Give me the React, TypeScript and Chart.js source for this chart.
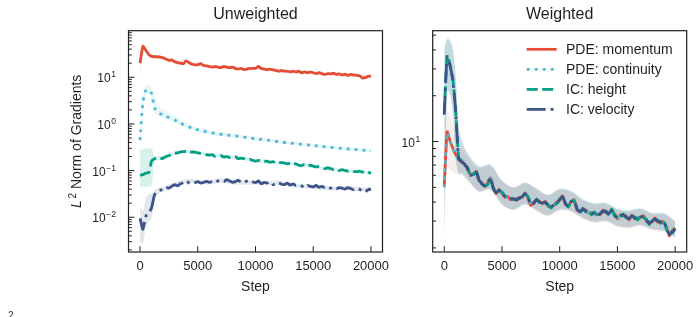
import React, { useEffect, useRef } from "react";
import { Chart, registerables } from "chart.js";

Chart.register(...registerables);

const FONT = '"Liberation Sans", Arial, Helvetica, sans-serif';
const INK = "#1f1f1f";

const SERIES_LABELS = ["PDE: momentum", "PDE: continuity", "IC: height", "IC: velocity"];
const SERIES_COLORS = ["#E64B35", "#4DBBD5", "#00A087", "#3C5488"];
const SERIES_DASH: number[][] = [[], [3, 5], [11, 4.5], [19, 4.8, 3, 4.8]];

const X_TICKS = [0, 5000, 10000, 15000, 20000];
const LEFT_Y_TICKS = [0.01, 0.1, 1, 10];
const RIGHT_Y_TICKS = [10];

// training steps at which the gradient norms were logged
const STEPS = [
  0, 250, 500, 750, 1000, 1250, 1500, 1750, 2000, 2250,
  2500, 2750, 3000, 3250, 3500, 3750, 4000, 4250, 4500, 4750,
  5000, 5250, 5500, 5750, 6000, 6250, 6500, 6750, 7000, 7250,
  7500, 7750, 8000, 8250, 8500, 8750, 9000, 9250, 9500, 9750,
  10000, 10250, 10500, 10750, 11000, 11250, 11500, 11750, 12000, 12250,
  12500, 12750, 13000, 13250, 13500, 13750, 14000, 14250, 14500, 14750,
  15000, 15250, 15500, 15750, 16000, 16250, 16500, 16750, 17000, 17250,
  17500, 17750, 18000, 18250, 18500, 18750, 19000, 19250, 19500, 19750,
  20000,
];

// ---- Unweighted: mean L2 norm of gradients per loss term ----
const UNW_MOMENTUM = [
  20, 46, 38, 31, 28, 27.5, 27.5, 27, 26, 24.5,
  23, 23.5, 21.5, 20.5, 20, 19.5, 22.5, 20.5, 19, 18.5,
  18.5, 19.5, 18, 17.5, 17, 16.5, 17, 16.5, 16, 17,
  16.5, 16, 16.5, 15.5, 15, 15.5, 14.5, 15, 15.5, 15.5,
  15.5, 17, 15.5, 15, 14.5, 15, 14.5, 14, 13.5, 14,
  13.5, 13.5, 13, 13.5, 13, 13.5, 12.5, 13, 12.5, 13,
  12.5, 12, 12.5, 12, 11.5, 12, 11.8, 12.2, 11.5, 11.8,
  11.2, 11.6, 11, 11.5, 11.2, 11, 10.8, 9.7, 9.8, 10.4,
  10.6,
];
const UNW_CONTINUITY = [
  0.45, 3.0, 5.2, 5.4, 4.4, 2.2, 1.8, 1.65, 1.55, 1.45,
  1.38, 1.3, 1.22, 1.12, 1.04, 0.97, 0.91, 0.86, 0.82, 0.78,
  0.75, 0.72, 0.7, 0.68, 0.66, 0.64, 0.63, 0.61, 0.6, 0.59,
  0.58, 0.57, 0.56, 0.55, 0.54, 0.53, 0.52, 0.51, 0.5, 0.49,
  0.48, 0.47, 0.465, 0.455, 0.45, 0.44, 0.43, 0.425, 0.415, 0.41,
  0.4, 0.395, 0.39, 0.385, 0.375, 0.37, 0.365, 0.36, 0.355, 0.35,
  0.345, 0.34, 0.335, 0.33, 0.325, 0.32, 0.318, 0.312, 0.308, 0.303,
  0.3, 0.296, 0.292, 0.288, 0.285, 0.281, 0.278, 0.275, 0.272, 0.27,
  0.268,
];
const UNW_HEIGHT = [
  0.08, 0.082, 0.088, 0.09, 0.16, 0.18, 0.185, 0.18, 0.185, 0.2,
  0.21, 0.225, 0.235, 0.24, 0.25, 0.255, 0.26, 0.255, 0.25, 0.25,
  0.24, 0.235, 0.23, 0.22, 0.215, 0.22, 0.2, 0.205, 0.21, 0.195,
  0.2, 0.19, 0.195, 0.2, 0.18, 0.185, 0.18, 0.17, 0.175, 0.165,
  0.16, 0.165, 0.16, 0.155, 0.16, 0.15, 0.155, 0.148, 0.145, 0.15,
  0.145, 0.14, 0.143, 0.135, 0.14, 0.13, 0.128, 0.135, 0.125, 0.13,
  0.125, 0.12, 0.122, 0.118, 0.11, 0.115, 0.11, 0.105, 0.108, 0.1,
  0.105, 0.1, 0.098, 0.1, 0.096, 0.094, 0.097, 0.093, 0.09, 0.092,
  0.088,
];
const UNW_VELOCITY = [
  0.0095, 0.0055, 0.0105, 0.012, 0.016, 0.03, 0.036, 0.038, 0.04, 0.044,
  0.042, 0.046, 0.05, 0.047, 0.052, 0.055, 0.06, 0.054, 0.052, 0.055,
  0.058, 0.054, 0.056, 0.059, 0.056, 0.058, 0.055, 0.06, 0.062, 0.058,
  0.064, 0.06, 0.056, 0.058, 0.062, 0.057, 0.055, 0.06, 0.063, 0.058,
  0.055, 0.06, 0.052, 0.056, 0.054, 0.058, 0.05, 0.052, 0.055, 0.051,
  0.05, 0.054, 0.049, 0.052, 0.048, 0.05, 0.047, 0.043, 0.048, 0.046,
  0.045, 0.048, 0.044, 0.046, 0.043, 0.045, 0.042, 0.044, 0.041, 0.043,
  0.042, 0.04, 0.043, 0.041, 0.039, 0.042, 0.04, 0.037, 0.035, 0.039,
  0.04,
];

// ---- Weighted: mean L2 norm of gradients per loss term ----
const W_MOMENTUM = [
  5.1, 11.6, 10.1, 9.0, 8.2, 7.7, 7.3, 7.15, 6.6, 6.1,
  6.15, 6.35, 5.55, 5.35, 5.05, 5.35, 5.75, 4.95, 4.55, 4.85,
  4.55, 4.3, 4.35, 4.15, 4.25, 4.1, 4.3, 4.3, 4.6, 4.25,
  3.8, 4.0, 4.1, 4.05, 3.9, 4.05, 3.75, 3.75, 3.8, 4.0,
  4.1, 4.4, 3.85, 3.8, 4.0, 4.15, 3.55, 3.5, 3.55, 3.55,
  3.4, 3.4, 3.35, 3.35, 3.3, 3.55, 3.4, 3.4, 3.5, 3.35,
  3.1, 3.3, 3.25, 3.25, 3.05, 3.3, 3.1, 3.15, 3.15, 3.25,
  3.0, 2.95, 2.95, 3.15, 2.95, 3.0, 2.95, 2.75, 2.4, 2.6,
  2.7,
];
const W_CONTINUITY = [
  5.0, 11.4, 10.0, 9.1, 8.1, 7.65, 7.35, 7.1, 6.65, 6.05,
  6.1, 6.4, 5.6, 5.3, 5.1, 5.3, 5.8, 4.9, 4.6, 4.8,
  4.6, 4.35, 4.3, 4.2, 4.2, 4.15, 4.25, 4.35, 4.55, 4.3,
  3.85, 3.95, 4.15, 4.0, 3.95, 4.0, 3.8, 3.7, 3.85, 3.95,
  4.15, 4.35, 3.9, 3.75, 4.05, 4.1, 3.6, 3.45, 3.6, 3.5,
  3.45, 3.35, 3.4, 3.3, 3.35, 3.5, 3.45, 3.35, 3.55, 3.3,
  3.15, 3.25, 3.3, 3.2, 3.1, 3.25, 3.15, 3.1, 3.2, 3.2,
  3.05, 2.9, 3.0, 3.1, 3.0, 2.95, 3.0, 2.7, 2.45, 2.55,
  2.65,
];
const W_HEIGHT = [
  15.5, 37, 32, 25.5, 15.5, 7.8, 7.5, 7.0, 6.8, 6.1,
  6.0, 6.3, 5.7, 5.25, 5.15, 5.2, 5.7, 5.0, 4.65, 4.75,
  4.65, 4.4, 4.25, 4.25, 4.15, 4.2, 4.2, 4.4, 4.5, 4.35,
  3.9, 3.9, 4.2, 3.95, 4.0, 3.95, 3.85, 3.65, 3.9, 3.9,
  4.2, 4.3, 3.95, 3.7, 4.1, 4.05, 3.65, 3.4, 3.65, 3.45,
  3.5, 3.3, 3.45, 3.25, 3.4, 3.45, 3.5, 3.3, 3.6, 3.25,
  3.2, 3.2, 3.35, 3.15, 3.15, 3.2, 3.2, 3.05, 3.25, 3.15,
  3.1, 2.85, 3.05, 3.05, 3.05, 2.9, 3.05, 2.65, 2.5, 2.5,
  2.7,
];
const W_VELOCITY = [
  15, 36, 31.5, 25, 15.5, 7.6, 7.4, 7.1, 6.7, 6.0,
  6.1, 6.4, 5.6, 5.3, 5.1, 5.3, 5.8, 4.9, 4.6, 4.8,
  4.6, 4.35, 4.3, 4.2, 4.2, 4.15, 4.25, 4.35, 4.55, 4.3,
  3.85, 3.95, 4.15, 4.0, 3.95, 4.0, 3.8, 3.7, 3.85, 3.95,
  4.15, 4.35, 3.9, 3.75, 4.05, 4.1, 3.6, 3.45, 3.6, 3.5,
  3.45, 3.35, 3.4, 3.3, 3.35, 3.5, 3.45, 3.35, 3.55, 3.3,
  3.15, 3.25, 3.3, 3.2, 3.1, 3.25, 3.15, 3.1, 3.2, 3.2,
  3.05, 2.9, 3.0, 3.1, 3.0, 2.95, 3.0, 2.7, 2.45, 2.55,
  2.65,
];

// spread across runs: upper / lower bound as a multiple of the mean
const BAND_STEPS = [
  0, 250, 500, 750, 1000, 1250, 1500, 2000, 3000, 4000,
  5000, 6000, 7000, 8000, 9000, 10000, 11000, 12000, 13000, 14000,
  15000, 16000, 17000, 18000, 19000, 20000,
];
const UNW_MOMENTUM_HI = [1.6, 1.12, 1.12, 1.1, 1.1, 1.08, 1.07, 1.06, 1.06, 1.06, 1.06, 1.06, 1.06, 1.06, 1.06, 1.06, 1.06, 1.06, 1.06, 1.06, 1.06, 1.06, 1.06, 1.06, 1.06, 1.06];
const UNW_MOMENTUM_LO = [0.45, 0.85, 0.88, 0.9, 0.9, 0.92, 0.93, 0.94, 0.94, 0.94, 0.94, 0.94, 0.94, 0.94, 0.94, 0.94, 0.94, 0.94, 0.94, 0.94, 0.94, 0.94, 0.94, 0.94, 0.94, 0.94];
const UNW_CONTINUITY_HI = [1.4, 1.35, 1.25, 1.25, 1.35, 1.8, 1.5, 1.3, 1.2, 1.15, 1.12, 1.1, 1.1, 1.1, 1.1, 1.1, 1.09, 1.09, 1.09, 1.09, 1.08, 1.08, 1.08, 1.08, 1.08, 1.08];
const UNW_CONTINUITY_LO = [0.7, 0.7, 0.8, 0.85, 0.8, 0.85, 0.85, 0.88, 0.88, 0.9, 0.9, 0.9, 0.9, 0.92, 0.92, 0.92, 0.92, 0.92, 0.92, 0.92, 0.92, 0.92, 0.92, 0.92, 0.92, 0.92];
const UNW_HEIGHT_HI = [3.6, 3.6, 3.4, 3.3, 1.9, 1.15, 1.1, 1.08, 1.08, 1.08, 1.08, 1.08, 1.08, 1.08, 1.08, 1.08, 1.08, 1.08, 1.08, 1.08, 1.08, 1.08, 1.08, 1.08, 1.08, 1.08];
const UNW_HEIGHT_LO = [0.55, 0.55, 0.5, 0.5, 0.3, 0.88, 0.9, 0.92, 0.92, 0.92, 0.92, 0.92, 0.92, 0.92, 0.92, 0.92, 0.92, 0.92, 0.92, 0.92, 0.92, 0.92, 0.92, 0.92, 0.92, 0.92];
const UNW_VELOCITY_HI = [1.8, 2.5, 2.4, 2.6, 2.0, 1.3, 1.15, 1.12, 1.12, 1.1, 1.1, 1.1, 1.1, 1.1, 1.1, 1.1, 1.1, 1.1, 1.1, 1.1, 1.1, 1.1, 1.1, 1.1, 1.1, 1.1];
const UNW_VELOCITY_LO = [0.3, 0.5, 0.6, 0.65, 0.6, 0.8, 0.85, 0.88, 0.88, 0.9, 0.9, 0.9, 0.9, 0.9, 0.9, 0.9, 0.9, 0.9, 0.9, 0.9, 0.9, 0.9, 0.9, 0.9, 0.9, 0.9];

const W_MOMENTUM_HI = [2.2, 1.35, 1.45, 1.45, 1.35, 1.25, 1.22, 1.2, 1.2, 1.2, 1.2, 1.19, 1.18, 1.18, 1.17, 1.17, 1.16, 1.15, 1.15, 1.14, 1.14, 1.13, 1.13, 1.12, 1.12, 1.12];
const W_MOMENTUM_LO = [0.4, 0.6, 0.65, 0.7, 0.75, 0.8, 0.83, 0.84, 0.84, 0.84, 0.84, 0.85, 0.85, 0.85, 0.86, 0.86, 0.86, 0.87, 0.87, 0.87, 0.88, 0.88, 0.88, 0.88, 0.86, 0.88];
const W_CONTINUITY_HI = [2.1, 1.35, 1.4, 1.45, 1.35, 1.25, 1.22, 1.2, 1.2, 1.2, 1.19, 1.19, 1.18, 1.18, 1.17, 1.17, 1.16, 1.15, 1.15, 1.14, 1.14, 1.13, 1.13, 1.12, 1.12, 1.12];
const W_CONTINUITY_LO = [0.4, 0.62, 0.66, 0.7, 0.75, 0.8, 0.83, 0.84, 0.84, 0.84, 0.85, 0.85, 0.85, 0.85, 0.86, 0.86, 0.86, 0.87, 0.87, 0.87, 0.88, 0.88, 0.88, 0.88, 0.86, 0.88];
const W_HEIGHT_HI = [2.6, 1.3, 1.45, 1.6, 1.7, 1.6, 1.38, 1.25, 1.22, 1.22, 1.2, 1.19, 1.18, 1.18, 1.17, 1.17, 1.16, 1.15, 1.15, 1.14, 1.14, 1.13, 1.13, 1.12, 1.12, 1.12];
const W_HEIGHT_LO = [0.15, 0.6, 0.65, 0.6, 0.5, 0.8, 0.83, 0.84, 0.84, 0.84, 0.84, 0.85, 0.85, 0.85, 0.86, 0.86, 0.86, 0.87, 0.87, 0.87, 0.88, 0.88, 0.88, 0.88, 0.86, 0.88];
const W_VELOCITY_HI = [2.7, 1.3, 1.45, 1.6, 1.7, 1.6, 1.38, 1.25, 1.22, 1.22, 1.2, 1.19, 1.18, 1.18, 1.17, 1.17, 1.16, 1.15, 1.15, 1.14, 1.14, 1.13, 1.13, 1.12, 1.12, 1.12];
const W_VELOCITY_LO = [0.15, 0.6, 0.65, 0.6, 0.5, 0.8, 0.83, 0.84, 0.84, 0.84, 0.84, 0.85, 0.85, 0.85, 0.86, 0.86, 0.86, 0.87, 0.87, 0.87, 0.88, 0.88, 0.88, 0.88, 0.86, 0.88];

type Panel = {
  title: string;
  series: number[][];
  bandHi: number[][];
  bandLo: number[][];
  bandAlpha: number[];
  yMin: number;
  yMax: number;
  yTicks: number[];
  yLabel: boolean;
  legend: boolean;
  padding: { left: number; right: number; top: number; bottom: number };
};

const UNWEIGHTED: Panel = {
  title: "Unweighted",
  series: [UNW_MOMENTUM, UNW_CONTINUITY, UNW_HEIGHT, UNW_VELOCITY],
  bandHi: [UNW_MOMENTUM_HI, UNW_CONTINUITY_HI, UNW_HEIGHT_HI, UNW_VELOCITY_HI],
  bandLo: [UNW_MOMENTUM_LO, UNW_CONTINUITY_LO, UNW_HEIGHT_LO, UNW_VELOCITY_LO],
  bandAlpha: [0.13, 0.13, 0.15, 0.15],
  yMin: 0.0018,
  yMax: 99.5,
  yTicks: LEFT_Y_TICKS,
  yLabel: true,
  legend: false,
  padding: { left: 128.5, right: 37.5, top: 30.7, bottom: 65 },
};

const WEIGHTED: Panel = {
  title: "Weighted",
  series: [W_MOMENTUM, W_CONTINUITY, W_HEIGHT, W_VELOCITY],
  bandHi: [W_MOMENTUM_HI, W_CONTINUITY_HI, W_HEIGHT_HI, W_VELOCITY_HI],
  bandLo: [W_MOMENTUM_LO, W_CONTINUITY_LO, W_HEIGHT_LO, W_VELOCITY_LO],
  bandAlpha: [0.08, 0.06, 0.1, 0.18],
  yMin: 1.88,
  yMax: 53.5,
  yTicks: RIGHT_Y_TICKS,
  yLabel: false,
  legend: true,
  padding: { left: 42.7, right: 13.3, top: 30.7, bottom: 65 },
};

function rgba(hex: string, a: number) {
  const n = parseInt(hex.slice(1), 16);
  return `rgba(${(n >> 16) & 255},${(n >> 8) & 255},${n & 255},${a})`;
}

function linePoints(values: number[]) {
  return STEPS.map((s, i) => ({ x: s, y: values[i] }));
}

function bandPoints(mean: number[], factors: number[]) {
  return BAND_STEPS.map((s, i) => ({ x: s, y: mean[STEPS.indexOf(s)] * factors[i] }));
}

// axes frame, inward ticks, tick labels, titles and legend
function makeDecor(p: Panel) {
  return {
    id: "decor",
    afterDraw(chart: any) {
      const { ctx, chartArea: a } = chart;
      const xs = chart.scales.x;
      const ys = chart.scales.y;
      ctx.save();
      ctx.fillStyle = INK;
      ctx.strokeStyle = INK;

      // tick marks
      ctx.lineWidth = 1;
      ctx.beginPath();
      for (const t of X_TICKS) {
        const px = xs.getPixelForValue(t);
        ctx.moveTo(px, a.bottom);
        ctx.lineTo(px, a.bottom - 5.8);
      }
      const e0 = Math.floor(Math.log10(ys.min));
      const e1 = Math.ceil(Math.log10(ys.max));
      for (let e = e0; e <= e1; e++) {
        for (let k = 1; k <= 9; k++) {
          const v = k * Math.pow(10, e);
          if (v < ys.min || v > ys.max) continue;
          const py = ys.getPixelForValue(v);
          ctx.moveTo(a.left, py);
          ctx.lineTo(a.left + (k === 1 ? 5.8 : 3.3), py);
        }
      }
      ctx.stroke();

      // frame
      ctx.lineWidth = 1.2;
      ctx.strokeRect(a.left, a.top, a.right - a.left, a.bottom - a.top);

      // x tick labels
      ctx.textBaseline = "alphabetic";
      ctx.textAlign = "center";
      ctx.font = `13px ${FONT}`;
      for (const t of X_TICKS) {
        ctx.fillText(String(t), xs.getPixelForValue(t), a.bottom + 18);
      }

      // y tick labels as powers of ten
      ctx.textAlign = "left";
      for (const v of p.yTicks) {
        const py = ys.getPixelForValue(v);
        const e = Math.round(Math.log10(v));
        const exp = e < 0 ? "\u2212" + Math.abs(e) : String(e);
        ctx.font = `12px ${FONT}`;
        const wb = ctx.measureText("10").width;
        ctx.font = `8.5px ${FONT}`;
        const we = ctx.measureText(exp).width;
        const x0 = a.left - 12.5 - wb - 0.6 - we;
        ctx.font = `12px ${FONT}`;
        ctx.fillText("10", x0, py + 5.2);
        ctx.font = `8.5px ${FONT}`;
        ctx.fillText(exp, x0 + wb + 0.6, py + 0.2);
      }

      // title and x axis label
      ctx.textAlign = "center";
      ctx.font = `16px ${FONT}`;
      ctx.fillText(p.title, (a.left + a.right) / 2, a.top - 11.7);
      ctx.font = `14px ${FONT}`;
      ctx.fillText("Step", (a.left + a.right) / 2, a.bottom + 39);

      // y axis label: L^2 Norm of Gradients
      if (p.yLabel) {
        ctx.save();
        ctx.translate(76, (a.top + a.bottom) / 2);
        ctx.rotate(-Math.PI / 2);
        const fi = `italic 14px ${FONT}`;
        const f14 = `14px ${FONT}`;
        const f10 = `10px ${FONT}`;
        const rest = " Norm of Gradients";
        ctx.font = fi;
        const wL = ctx.measureText("L").width;
        ctx.font = f10;
        const w2 = ctx.measureText("2").width;
        ctx.font = f14;
        const wr = ctx.measureText(rest).width;
        const gap = 1.8;
        let u = -(wL + gap + w2 + wr) / 2;
        ctx.textAlign = "left";
        ctx.font = fi;
        ctx.fillText("L", u, 5);
        u += wL + gap;
        ctx.font = f10;
        ctx.fillText("2", u, -0.5);
        u += w2;
        ctx.font = f14;
        ctx.fillText(rest, u, 5);
        ctx.restore();
      }

      // legend
      if (p.legend) {
        ctx.textAlign = "left";
        ctx.font = `14px ${FONT}`;
        SERIES_LABELS.forEach((label, i) => {
          const y = a.top + 18.6 + 20 * i;
          ctx.save();
          ctx.strokeStyle = SERIES_COLORS[i];
          ctx.lineWidth = 2.7;
          ctx.lineCap = "butt";
          ctx.setLineDash(SERIES_DASH[i]);
          ctx.beginPath();
          ctx.moveTo(a.left + 94, y);
          ctx.lineTo(a.left + 124, y);
          ctx.stroke();
          ctx.restore();
          ctx.fillStyle = INK;
          ctx.fillText(label, a.left + 133.3, y + 5);
        });
      }
      ctx.restore();
    },
  };
}

function makeConfig(p: Panel): any {
  const bands: any[] = [];
  p.series.forEach((values, i) => {
    bands.push({
      label: "",
      data: bandPoints(values, p.bandHi[i]),
      borderColor: "rgba(0,0,0,0)",
      borderWidth: 0,
      pointRadius: 0,
      tension: 0.35,
      fill: "+1",
      backgroundColor: rgba(SERIES_COLORS[i], p.bandAlpha[i]),
      order: 10,
    });
    bands.push({
      label: "",
      data: bandPoints(values, p.bandLo[i]),
      borderColor: "rgba(0,0,0,0)",
      borderWidth: 0,
      pointRadius: 0,
      tension: 0.35,
      fill: false,
      order: 10,
    });
  });
  const lines = p.series.map((values, i) => ({
    label: SERIES_LABELS[i],
    data: linePoints(values),
    borderColor: SERIES_COLORS[i],
    borderWidth: 2.8,
    borderDash: SERIES_DASH[i],
    borderCapStyle: "butt",
    borderJoinStyle: "round",
    pointRadius: 0,
    tension: 0.2,
    fill: false,
    order: 4 - i,
  }));
  return {
    type: "line",
    data: { datasets: [...bands, ...lines] },
    options: {
      responsive: false,
      animation: false,
      devicePixelRatio: 1,
      events: [],
      layout: { padding: p.padding },
      scales: {
        x: { type: "linear", min: -1000, max: 21000, display: false },
        y: { type: "logarithmic", min: p.yMin, max: p.yMax, display: false },
      },
      plugins: {
        legend: { display: false },
        tooltip: { enabled: false },
        title: { display: false },
      },
    },
    plugins: [makeDecor(p)],
  };
}

export default function App() {
  const leftRef = useRef<HTMLCanvasElement>(null);
  const rightRef = useRef<HTMLCanvasElement>(null);

  useEffect(() => {
    const left = new Chart(leftRef.current as HTMLCanvasElement, makeConfig(UNWEIGHTED));
    const right = new Chart(rightRef.current as HTMLCanvasElement, makeConfig(WEIGHTED));
    return () => {
      left.destroy();
      right.destroy();
    };
  }, []);

  return (
    <div
      style={{
        position: "fixed",
        left: 0,
        top: 0,
        width: 700,
        height: 317,
        overflow: "hidden",
        background: "#ffffff",
      }}
    >
      <canvas
        ref={leftRef}
        width={420}
        height={317}
        style={{ position: "absolute", left: 0, top: 0, width: 420, height: 317 }}
      />
      <canvas
        ref={rightRef}
        width={310}
        height={317}
        style={{ position: "absolute", left: 390, top: 0, width: 310, height: 317 }}
      />
      <span
        style={{
          position: "absolute",
          left: 8,
          top: 311,
          font: `10px ${FONT}`,
          lineHeight: "10px",
          color: "#333",
        }}
      >
        2
      </span>
    </div>
  );
}
